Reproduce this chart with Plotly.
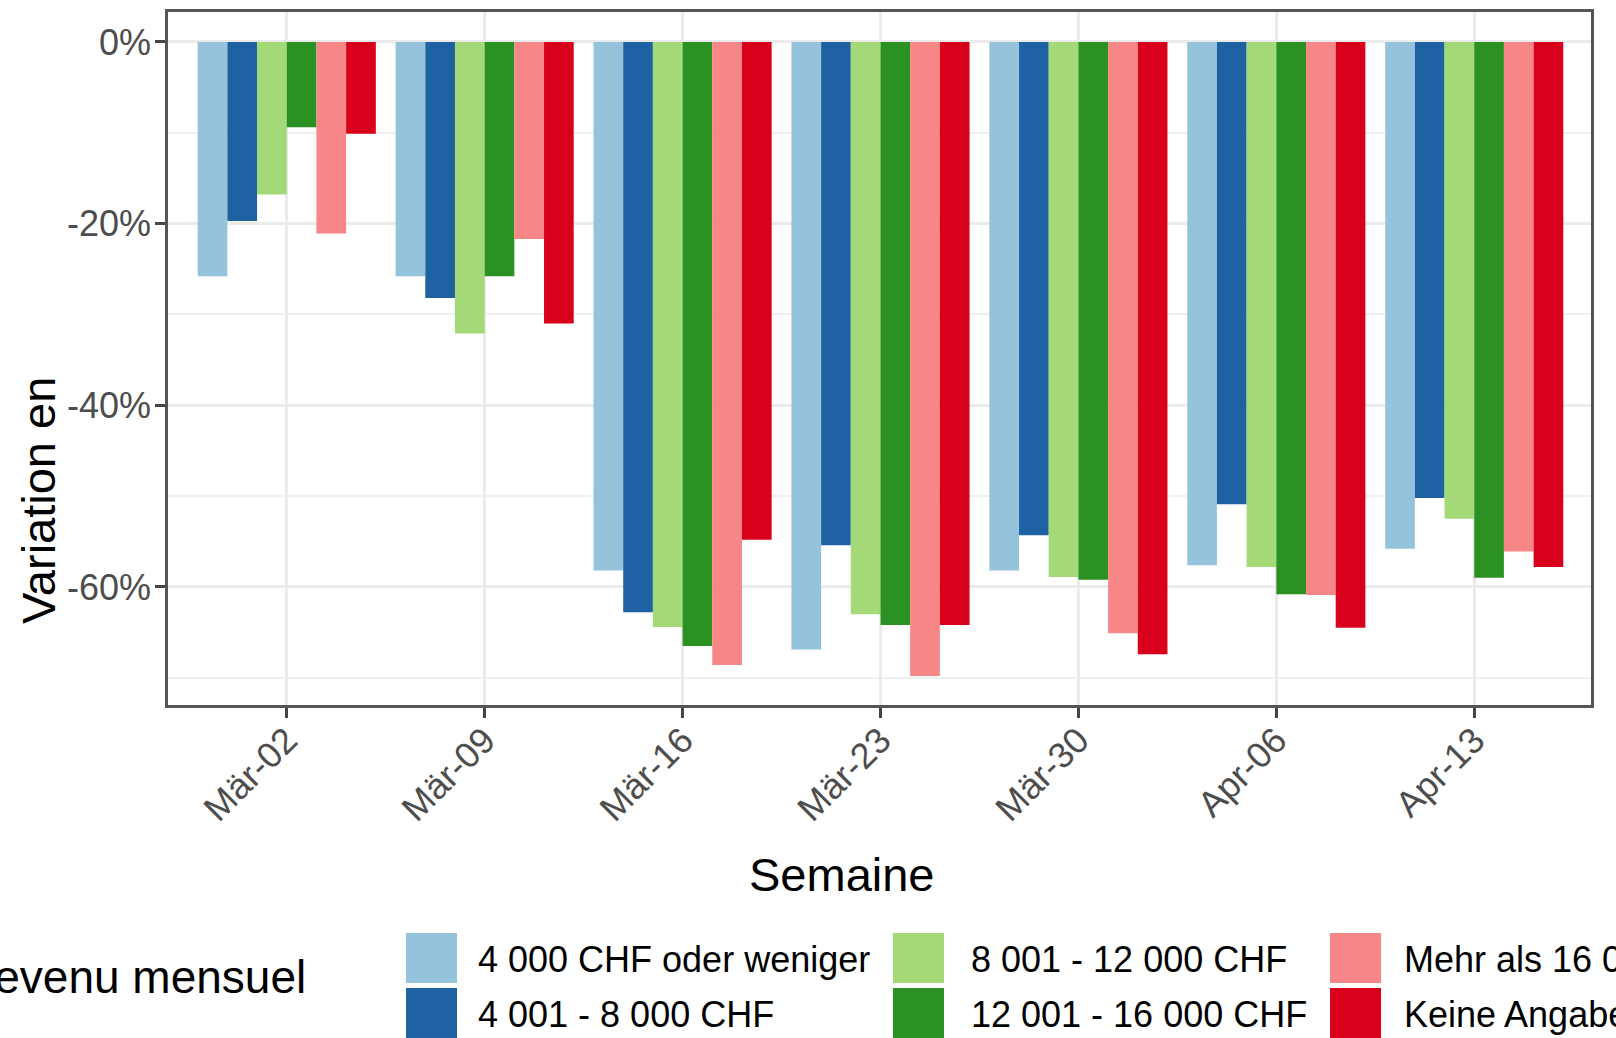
import plotly.graph_objects as go

# ---- data ----
weeks = ["Mär-02", "Mär-09", "Mär-16", "Mär-23", "Mär-30", "Apr-06", "Apr-13"]
income_groups = ["4 000 CHF oder weniger", "4 001 - 8 000 CHF", "8 001 - 12 000 CHF",
                 "12 001 - 16 000 CHF", "Mehr als 16 000 CHF", "Keine Angabe"]
v_le4000 = [-25.8, -25.8, -58.2, -66.9, -58.2, -57.6, -55.8]
v_4001_8000 = [-19.7, -28.2, -62.8, -55.4, -54.3, -50.9, -50.2]
v_8001_12000 = [-16.8, -32.1, -64.4, -63.0, -58.9, -57.8, -52.5]
v_12001_16000 = [-9.4, -25.8, -66.5, -64.2, -59.2, -60.8, -59.0]
v_gt16000 = [-21.1, -21.7, -68.6, -69.8, -65.1, -60.9, -56.1]
v_keine = [-10.1, -31.0, -54.8, -64.2, -67.4, -64.5, -57.8]
series = [v_le4000, v_4001_8000, v_8001_12000, v_12001_16000, v_gt16000, v_keine]
y_tickvals = [0, -20, -40, -60]
y_ticktext = ["0%", "-20%", "-40%", "-60%"]
y_minor = [-10, -30, -50, -70]

colors = ["#96C3DC", "#1F62A4", "#A4D977", "#2C9123", "#F78686", "#D8001B"]

W, H = 1616, 1038
L, R, T, B = 168, 25, 12, 333
PW, PH = W - L - R, H - T - B
FONT = "Liberation Sans, Arial, Helvetica, sans-serif"


def px(x):
    return (x - L) / PW


def py(y):
    return (H - B - y) / PH


fig = go.Figure()
for name, vals, c in zip(income_groups, series, colors):
    fig.add_trace(go.Bar(x=weeks, y=vals, name=name, marker=dict(color=c, line=dict(width=0)),
                         showlegend=False))

fig.update_layout(
    width=W, height=H,
    margin=dict(l=L, r=R, t=T, b=B, pad=0),
    paper_bgcolor="white", plot_bgcolor="white",
    barmode="group", bargap=0.1, bargroupgap=0,
    font=dict(family=FONT, color="black"),
)

fig.update_xaxes(
    type="category", range=[-0.6, 6.59],
    showgrid=True, gridcolor="#EBEBEB", gridwidth=2.5,
    showline=True, linecolor="#555555", linewidth=2.5, mirror=True,
    ticks="outside", ticklen=10, tickwidth=2.5, tickcolor="#444444",
    tickangle=-45, tickfont=dict(size=36, color="#4D4D4D", family=FONT),
    ticklabelstandoff=-13,
    zeroline=False, automargin=False,
)
fig.update_yaxes(
    range=[-73.0, 3.3],
    tickvals=y_tickvals, ticktext=y_ticktext,
    showgrid=True, gridcolor="#EBEBEB", gridwidth=2.5,
    minor=dict(tickvals=y_minor, showgrid=True, gridcolor="#F0F0F0", gridwidth=2, ticks=""),
    showline=True, linecolor="#555555", linewidth=2.5, mirror=True,
    ticks="outside", ticklen=10, tickwidth=2.5, tickcolor="#444444",
    tickfont=dict(size=36, color="#4D4D4D", family=FONT),
    ticklabelstandoff=-3,
    zeroline=False, automargin=False,
)

annotations = [
    dict(text="Semaine", x=px(842), y=py(874), xref="paper", yref="paper",
         xanchor="center", yanchor="middle", showarrow=False, font=dict(size=47, color="black")),
    dict(text="Variation en", x=px(38), y=py(501), xref="paper", yref="paper",
         xanchor="center", yanchor="middle", textangle=-90, showarrow=False,
         font=dict(size=47, color="black")),
    dict(text="Revenu mensuel", x=px(308), y=py(977), xref="paper", yref="paper",
         xanchor="right", yanchor="middle", showarrow=False, font=dict(size=46, color="black")),
]

shapes = []
sw_x = [406, 893, 1330]
txt_x = [476, 969, 1402]
rows_y = [(933, 983), (988, 1038)]
for i, (name, c) in enumerate(zip(income_groups, colors)):
    col, row = i // 2, i % 2
    y0, y1 = rows_y[row]
    shapes.append(dict(type="rect", xref="paper", yref="paper",
                       x0=px(sw_x[col]), x1=px(sw_x[col] + 51), y0=py(y1), y1=py(y0),
                       fillcolor=c, line=dict(width=0), layer="above"))
    annotations.append(dict(text=name, x=px(txt_x[col]), y=py((y0 + y1) / 2 + 1),
                            xref="paper", yref="paper", xanchor="left", yanchor="middle",
                            showarrow=False, font=dict(size=36, color="black")))

fig.update_layout(annotations=annotations, shapes=shapes)
fig.write_html("out.html", config={"displayModeBar": False},
               post_script="document.body.style.margin='0';")
